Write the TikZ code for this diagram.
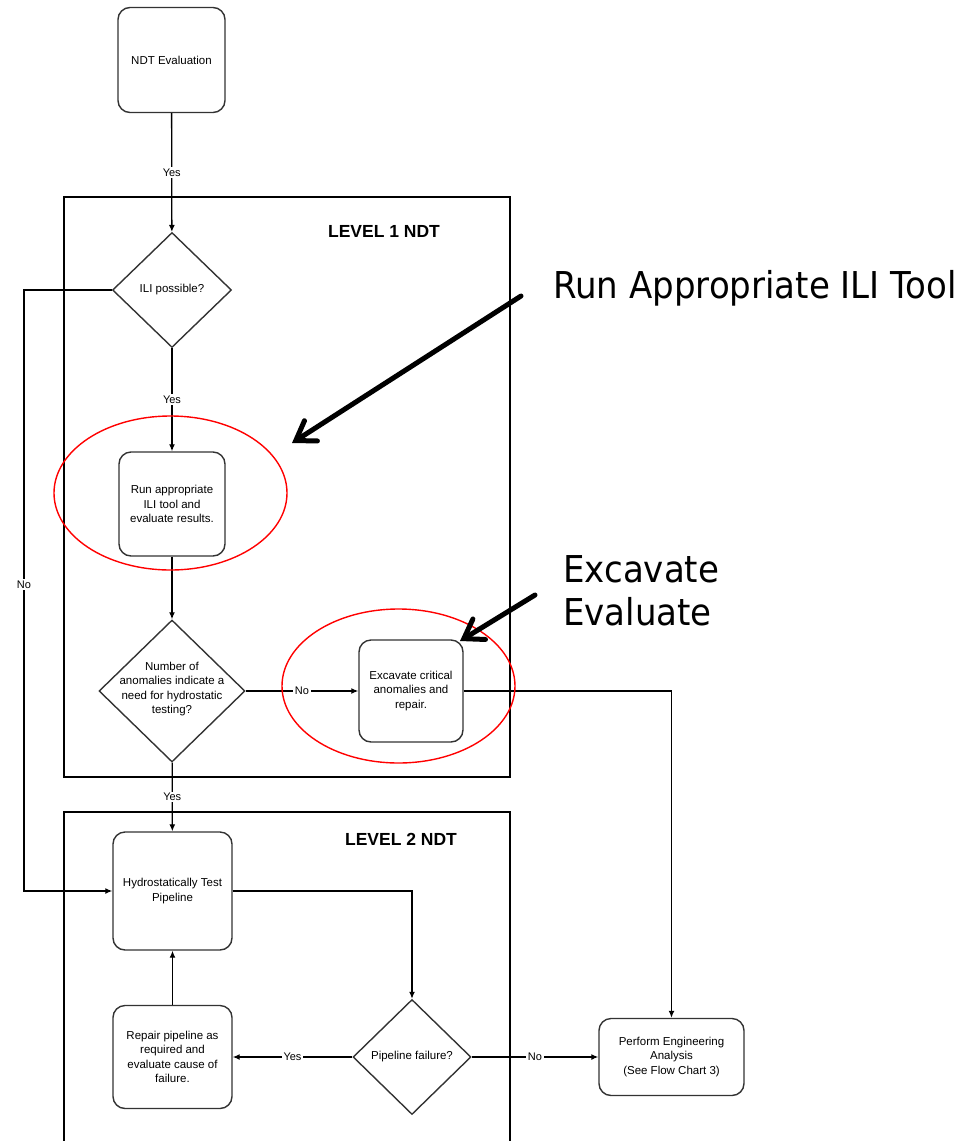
\documentclass[tikz,border=0pt]{standalone}
\usepackage{fontspec}
\setmainfont{Liberation Sans}
\newfontfamily\calloutfont[FakeStretch=0.92]{DejaVu Sans}
\usetikzlibrary{shapes.geometric,arrows.meta}

\tikzset{
  process/.style={draw=black!80, line width=1.4pt, rounded corners=12, align=center,
    font=\fontsize{11.5}{14.5}\selectfont, inner sep=0pt},
  decision/.style={diamond, draw=black!80, line width=1.4pt, inner sep=0pt},
  dtext/.style={align=center, font=\fontsize{11.5}{14.5}\selectfont},
  flow/.style={line width=1.3pt, -{Latex[length=7pt,width=6pt]}},
  lbl/.style={fill=white, inner sep=1.5pt, font=\fontsize{11}{13}\selectfont},
  level/.style={line width=1.6pt},
  ring/.style={red, line width=1.4pt},
  callout/.style={line width=5pt, line cap=round,
    -{Straight Barb[length=18pt,width=24pt,line cap=round]}}
}

\begin{document}
\begin{tikzpicture}[x=1pt,y=-1pt]

\useasboundingbox (0,0) rectangle (970,1141);

% level frames
\draw[level] (64,197) rectangle (510,777);
\draw[level] (64,1141) -- (64,812) -- (510,812) -- (510,1141);
\node[font=\bfseries\fontsize{17.5}{20}\selectfont] (lvlone) at (384,231) {LEVEL 1 NDT};
\node[font=\bfseries\fontsize{17.5}{20}\selectfont] (lvltwo) at (401,839) {LEVEL 2 NDT};

% steps
\node[process, minimum width=107, minimum height=105] (ndt) at (171.5,60) {NDT Evaluation};
\node[decision, minimum width=119, minimum height=115] (ili) at (172,290) {};
\node[dtext] at (ili) {ILI possible?};
\node[process, minimum width=106, minimum height=104] (run) at (172,504) {Run appropriate\\ILI tool and\\evaluate results.};
\node[decision, minimum width=146, minimum height=142] (anom) at (172,691) {};
\node[dtext] at (172,689) {Number of\\anomalies indicate a\\need for hydrostatic\\testing?};
\node[process, minimum width=104, minimum height=102] (exc) at (411,691) {Excavate critical\\anomalies and\\repair.};
\node[process, minimum width=119, minimum height=118] (hydro) at (172.5,891) {Hydrostatically Test\\Pipeline};
\node[decision, minimum width=118, minimum height=115] (fail) at (412,1057) {};
\node[dtext] at (fail) {Pipeline failure?};
\node[process, minimum width=119, minimum height=103] (repair) at (172.5,1057) {Repair pipeline as\\required and\\evaluate cause of\\failure.};
\node[process, minimum width=145, minimum height=77] (pea) at (671.5,1057) {Perform Engineering\\Analysis\\(See Flow Chart 3)};

% connectors
\coordinate (noturn) at (24,290);
\draw[flow] (ndt) -- node[lbl] {Yes} (ili);
\draw[flow] (ili.west) -- (noturn) |- node[lbl, pos=0.245] {No} (hydro.west);
\draw[flow] (ili) -- node[lbl] {Yes} (run);
\draw[flow] (run) -- (anom);
\draw[flow] (anom) -- node[lbl] {No} (exc);
\draw[flow] (exc.east) -| (pea.north);
\draw[flow] (anom) -- node[lbl] {Yes} (hydro);
\draw[flow] (hydro.east) -| (fail.north);
\draw[flow] (fail) -- node[lbl] {Yes} (repair);
\draw[flow] (fail) -- node[lbl] {No} (pea);
\draw[flow] (repair) -- (hydro);

% red marks
\draw[ring] (170.5,493) ellipse [x radius=116.5, y radius=77];
\draw[ring] (398.5,686) ellipse [x radius=116.5, y radius=77];

% callouts
\node[anchor=west, inner sep=0pt, font=\calloutfont\fontsize{37}{43}\selectfont] (runnote) at (553,288) {Run Appropriate ILI Tool};
\node[anchor=west, inner sep=0pt, align=left, font=\calloutfont\fontsize{37}{43}\selectfont] (excnote) at (563,591) {Excavate\\Evaluate};
\coordinate (runtail) at (521,296);
\coordinate (runtip) at (292,443);
\coordinate (exctail) at (535,595);
\coordinate (exctip) at (460,641);
\draw[callout] (runtail) -- (runtip);
\draw[callout] (exctail) -- (exctip);

\end{tikzpicture}
\end{document}
